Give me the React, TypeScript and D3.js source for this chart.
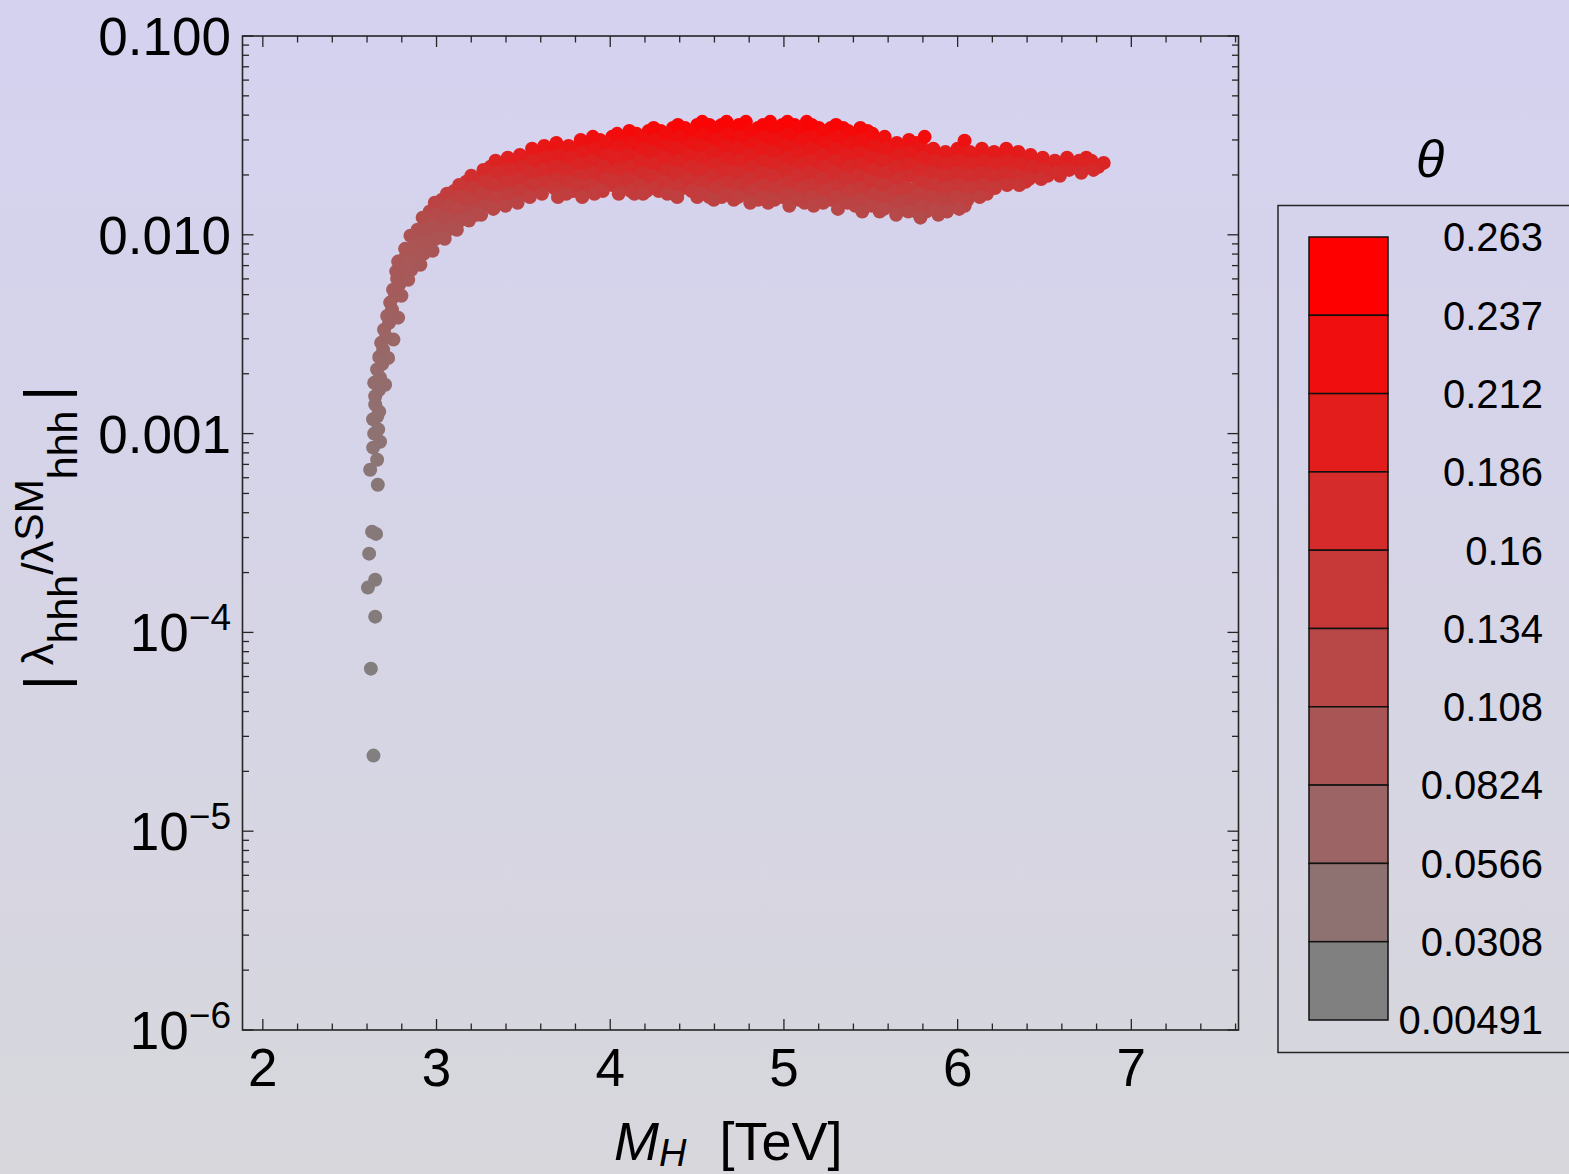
import React from "react";
import * as d3 from "d3";

type P = [number, number, number]; // [M_H (TeV), |lambda_hhh / lambda_hhh^SM|, theta]

const tailPoints: P[] = [
  [2.637, 2.4e-5, 0.006], [2.622, 6.57e-5, 0.009], [2.647, 1.2e-4, 0.013],
  [2.605, 1.68e-4, 0.015], [2.647, 1.84e-4, 0.016], [2.612, 2.49e-4, 0.018],
  [2.629, 3.21e-4, 0.02], [2.652, 3.13e-4, 0.02], [2.662, 5.53e-4, 0.024],
];

const curvePoints: P[] = [
  [2.618, 0.000658, 0.026], [2.658, 0.000739, 0.028], [2.635, 0.00085, 0.03],
  [2.675, 0.00091, 0.031], [2.641, 0.001, 0.033], [2.664, 0.00105, 0.034],
  [2.635, 0.00118, 0.036], [2.658, 0.00122, 0.036], [2.67, 0.00129, 0.037],
  [2.647, 0.0014, 0.039], [2.647, 0.00154, 0.041], [2.67, 0.00166, 0.043],
  [2.641, 0.0018, 0.044], [2.704, 0.00176, 0.044], [2.675, 0.00191, 0.046],
  [2.658, 0.0021, 0.048], [2.687, 0.00224, 0.05], [2.721, 0.0024, 0.051],
  [2.67, 0.00243, 0.052], [2.693, 0.00264, 0.054], [2.681, 0.00286, 0.057],
  [2.752, 0.00297, 0.058], [2.71, 0.00306, 0.059], [2.698, 0.00333, 0.062],
  [2.727, 0.00361, 0.065], [2.779, 0.00383, 0.067], [2.716, 0.00391, 0.068],
  [2.744, 0.0042, 0.07], [2.733, 0.00456, 0.073], [2.762, 0.00493, 0.076],
  [2.798, 0.00494, 0.076], [2.75, 0.00529, 0.078], [2.785, 0.00561, 0.08],
  [2.773, 0.00601, 0.082], [2.808, 0.00629, 0.084], [2.768, 0.00655, 0.085],
  [2.796, 0.00675, 0.086], [2.836, 0.00707, 0.087], [2.779, 0.00733, 0.088],
  [2.819, 0.00767, 0.089], [2.86, 0.00789, 0.09], [2.819, 0.0085, 0.092],
];

const bandPoints: P[] = [
  [2.85, 0.00989, 0.097], [2.862, 0.0086, 0.092], [2.841, 0.00749, 0.088], [2.855, 0.00667, 0.085], [2.837, 0.00594, 0.082],
  [2.92, 0.0122, 0.111], [2.932, 0.0106, 0.101], [2.911, 0.00922, 0.094], [2.925, 0.00803, 0.09], [2.907, 0.00707, 0.087],
  [2.99, 0.0145, 0.127], [3.002, 0.0126, 0.114], [2.981, 0.011, 0.103], [2.995, 0.00955, 0.095], [2.977, 0.00831, 0.091],
  [3.06, 0.0161, 0.14], [3.072, 0.014, 0.123], [3.051, 0.0122, 0.111], [3.065, 0.0106, 0.101], [3.047, 0.00955, 0.095],
  [3.13, 0.0178, 0.154], [3.142, 0.0155, 0.135], [3.121, 0.0135, 0.12], [3.135, 0.0118, 0.108], [3.117, 0.0106, 0.101],
  [3.2, 0.0198, 0.169], [3.212, 0.0172, 0.149], [3.191, 0.015, 0.131], [3.205, 0.0131, 0.117], [3.187, 0.0118, 0.108],
  [3.27, 0.0212, 0.179], [3.282, 0.0185, 0.159], [3.261, 0.0161, 0.14], [3.275, 0.014, 0.123], [3.257, 0.0126, 0.114],
  [3.34, 0.0236, 0.194], [3.352, 0.0205, 0.174], [3.331, 0.0178, 0.154], [3.345, 0.0155, 0.135], [3.327, 0.0135, 0.12],
  [3.41, 0.0244, 0.199], [3.422, 0.0212, 0.179], [3.401, 0.0185, 0.159], [3.415, 0.0161, 0.14], [3.397, 0.014, 0.123],
  [3.48, 0.0252, 0.204], [3.492, 0.022, 0.184], [3.471, 0.0191, 0.164], [3.485, 0.0166, 0.145], [3.467, 0.0145, 0.127],
  [3.55, 0.0271, 0.214], [3.562, 0.0236, 0.194], [3.541, 0.0205, 0.174], [3.555, 0.0178, 0.154], [3.537, 0.0155, 0.135],
  [3.62, 0.028, 0.219], [3.632, 0.0244, 0.199], [3.611, 0.0212, 0.179], [3.625, 0.0185, 0.159], [3.607, 0.0161, 0.14],
  [3.69, 0.029, 0.224], [3.702, 0.0252, 0.204], [3.681, 0.022, 0.184], [3.695, 0.0191, 0.164], [3.677, 0.0172, 0.149], [3.699, 0.0155, 0.135],
  [3.76, 0.028, 0.219], [3.772, 0.0244, 0.199], [3.751, 0.0212, 0.179], [3.765, 0.0185, 0.159], [3.747, 0.0161, 0.14],
  [3.83, 0.03, 0.228], [3.842, 0.0261, 0.209], [3.821, 0.0227, 0.189], [3.835, 0.0198, 0.169], [3.817, 0.0178, 0.154], [3.839, 0.0155, 0.135],
  [3.9, 0.0311, 0.233], [3.912, 0.0271, 0.214], [3.891, 0.0236, 0.194], [3.905, 0.0205, 0.174], [3.887, 0.0178, 0.154], [3.909, 0.0161, 0.14],
  [3.97, 0.029, 0.224], [3.982, 0.0252, 0.204], [3.961, 0.022, 0.184], [3.975, 0.0191, 0.164], [3.957, 0.0166, 0.145],
  [4.04, 0.0322, 0.238], [4.052, 0.028, 0.219], [4.031, 0.0244, 0.199], [4.045, 0.0212, 0.179], [4.027, 0.0185, 0.159], [4.049, 0.0161, 0.14],
  [4.11, 0.0333, 0.243], [4.122, 0.029, 0.224], [4.101, 0.0252, 0.204], [4.115, 0.022, 0.184], [4.097, 0.0191, 0.164], [4.119, 0.0166, 0.145],
  [4.18, 0.0311, 0.233], [4.192, 0.0271, 0.214], [4.171, 0.0236, 0.194], [4.185, 0.0205, 0.174], [4.167, 0.0178, 0.154], [4.189, 0.0161, 0.14],
  [4.25, 0.0345, 0.247], [4.262, 0.03, 0.228], [4.241, 0.0261, 0.209], [4.255, 0.0227, 0.189], [4.237, 0.0198, 0.169], [4.259, 0.0172, 0.149],
  [4.32, 0.0322, 0.238], [4.332, 0.028, 0.219], [4.311, 0.0244, 0.199], [4.325, 0.0212, 0.179], [4.307, 0.0185, 0.159], [4.329, 0.0161, 0.14],
  [4.39, 0.0357, 0.252], [4.402, 0.0311, 0.233], [4.381, 0.0271, 0.214], [4.395, 0.0236, 0.194], [4.377, 0.0205, 0.174], [4.399, 0.0178, 0.154], [4.386, 0.0155, 0.135],
  [4.46, 0.0333, 0.243], [4.472, 0.029, 0.224], [4.451, 0.0252, 0.204], [4.465, 0.022, 0.184], [4.447, 0.0191, 0.164], [4.469, 0.0166, 0.145],
  [4.53, 0.037, 0.255], [4.542, 0.0322, 0.238], [4.521, 0.028, 0.219], [4.535, 0.0244, 0.199], [4.517, 0.0212, 0.179], [4.539, 0.0185, 0.159], [4.526, 0.0161, 0.14],
  [4.6, 0.0345, 0.247], [4.612, 0.03, 0.228], [4.591, 0.0261, 0.209], [4.605, 0.0227, 0.189], [4.587, 0.0198, 0.169], [4.609, 0.0172, 0.149], [4.596, 0.015, 0.131],
  [4.67, 0.037, 0.255], [4.682, 0.0322, 0.238], [4.661, 0.028, 0.219], [4.675, 0.0244, 0.199], [4.657, 0.0212, 0.179], [4.679, 0.0185, 0.159], [4.666, 0.0161, 0.14],
  [4.74, 0.0357, 0.252], [4.752, 0.0311, 0.233], [4.731, 0.0271, 0.214], [4.745, 0.0236, 0.194], [4.727, 0.0205, 0.174], [4.749, 0.0178, 0.154], [4.736, 0.0155, 0.135],
  [4.81, 0.0333, 0.243], [4.822, 0.029, 0.224], [4.801, 0.0252, 0.204], [4.815, 0.022, 0.184], [4.797, 0.0191, 0.164], [4.819, 0.0166, 0.145], [4.806, 0.0145, 0.127],
  [4.88, 0.0357, 0.252], [4.892, 0.0311, 0.233], [4.871, 0.0271, 0.214], [4.885, 0.0236, 0.194], [4.867, 0.0205, 0.174], [4.889, 0.0178, 0.154], [4.876, 0.0155, 0.135],
  [4.95, 0.0345, 0.247], [4.962, 0.03, 0.228], [4.941, 0.0261, 0.209], [4.955, 0.0227, 0.189], [4.937, 0.0198, 0.169], [4.959, 0.0172, 0.149], [4.946, 0.015, 0.131],
  [5.02, 0.037, 0.255], [5.032, 0.0322, 0.238], [5.011, 0.028, 0.219], [5.025, 0.0244, 0.199], [5.007, 0.0212, 0.179], [5.029, 0.0185, 0.159], [5.016, 0.0161, 0.14], [5.031, 0.014, 0.123],
  [5.09, 0.0345, 0.247], [5.102, 0.03, 0.228], [5.081, 0.0261, 0.209], [5.095, 0.0227, 0.189], [5.077, 0.0198, 0.169], [5.099, 0.0172, 0.149], [5.086, 0.015, 0.131],
  [5.16, 0.0357, 0.252], [5.172, 0.0311, 0.233], [5.151, 0.0271, 0.214], [5.165, 0.0236, 0.194], [5.147, 0.0205, 0.174], [5.169, 0.0178, 0.154], [5.156, 0.0155, 0.135], [5.171, 0.014, 0.123],
  [5.23, 0.0333, 0.243], [5.242, 0.029, 0.224], [5.221, 0.0252, 0.204], [5.235, 0.022, 0.184], [5.217, 0.0191, 0.164], [5.239, 0.0166, 0.145], [5.226, 0.0145, 0.127],
  [5.3, 0.0357, 0.252], [5.312, 0.0311, 0.233], [5.291, 0.0271, 0.214], [5.305, 0.0236, 0.194], [5.287, 0.0205, 0.174], [5.309, 0.0178, 0.154], [5.296, 0.0155, 0.135], [5.311, 0.0135, 0.12],
  [5.37, 0.0333, 0.243], [5.382, 0.029, 0.224], [5.361, 0.0252, 0.204], [5.375, 0.022, 0.184], [5.357, 0.0191, 0.164], [5.379, 0.0166, 0.145], [5.366, 0.0145, 0.127],
  [5.44, 0.0345, 0.247], [5.452, 0.03, 0.228], [5.431, 0.0261, 0.209], [5.445, 0.0227, 0.189], [5.427, 0.0198, 0.169], [5.449, 0.0172, 0.149], [5.436, 0.015, 0.131], [5.451, 0.0131, 0.117],
  [5.51, 0.0322, 0.238], [5.522, 0.028, 0.219], [5.501, 0.0244, 0.199], [5.515, 0.0212, 0.179], [5.497, 0.0185, 0.159], [5.519, 0.0161, 0.14], [5.506, 0.014, 0.123],
  [5.58, 0.0311, 0.233], [5.592, 0.0271, 0.214], [5.571, 0.0236, 0.194], [5.585, 0.0205, 0.174], [5.567, 0.0178, 0.154], [5.589, 0.0155, 0.135], [5.576, 0.0135, 0.12],
  [5.65, 0.029, 0.224], [5.662, 0.0252, 0.204], [5.641, 0.022, 0.184], [5.655, 0.0191, 0.164], [5.637, 0.0166, 0.145], [5.659, 0.0145, 0.127], [5.646, 0.0126, 0.114],
  [5.72, 0.03, 0.228], [5.732, 0.0261, 0.209], [5.711, 0.0227, 0.189], [5.725, 0.0198, 0.169], [5.707, 0.0172, 0.149], [5.729, 0.015, 0.131], [5.716, 0.0131, 0.117],
  [5.79, 0.028, 0.219], [5.802, 0.0244, 0.199], [5.781, 0.0212, 0.179], [5.795, 0.0185, 0.159], [5.777, 0.0161, 0.14], [5.799, 0.014, 0.123], [5.786, 0.0122, 0.111],
  [5.81, 0.0311, 0.24],
  [5.86, 0.0271, 0.214], [5.872, 0.0236, 0.194], [5.851, 0.0205, 0.174], [5.865, 0.0178, 0.154], [5.847, 0.0155, 0.135], [5.869, 0.0135, 0.12],
  [5.93, 0.0261, 0.209], [5.942, 0.0227, 0.189], [5.921, 0.0198, 0.169], [5.935, 0.0172, 0.149], [5.917, 0.015, 0.131], [5.939, 0.0131, 0.117],
  [6.0, 0.0271, 0.214], [6.012, 0.0236, 0.194], [5.991, 0.0205, 0.174], [6.005, 0.0178, 0.154], [5.987, 0.0155, 0.135], [6.009, 0.0135, 0.12],
  [6.04, 0.0297, 0.228],
  [6.07, 0.0261, 0.209], [6.082, 0.0227, 0.189], [6.061, 0.0198, 0.169], [6.075, 0.0172, 0.149], [6.057, 0.015, 0.131],
  [6.14, 0.0271, 0.214], [6.152, 0.0236, 0.194], [6.131, 0.0205, 0.174], [6.145, 0.0178, 0.154], [6.127, 0.0155, 0.135],
  [6.21, 0.0261, 0.209], [6.222, 0.0227, 0.189], [6.201, 0.0198, 0.169], [6.215, 0.0172, 0.149],
  [6.28, 0.0271, 0.214], [6.292, 0.0236, 0.194], [6.271, 0.0205, 0.174], [6.285, 0.0178, 0.154],
  [6.35, 0.0261, 0.209], [6.362, 0.0227, 0.189], [6.341, 0.0198, 0.169], [6.355, 0.0178, 0.154],
  [6.42, 0.0252, 0.204], [6.432, 0.022, 0.184], [6.411, 0.0191, 0.164],
  [6.49, 0.0244, 0.199], [6.502, 0.0212, 0.179], [6.481, 0.0191, 0.164],
  [6.56, 0.0236, 0.194], [6.572, 0.0205, 0.174],
  [6.63, 0.0244, 0.199], [6.642, 0.0212, 0.179],
  [6.7, 0.0236, 0.194], [6.712, 0.0205, 0.174],
  [6.77, 0.0236, 0.194], [6.782, 0.0212, 0.179],
  [6.841, 0.023, 0.19],
];

const bandInnerPoints: P[] = [
  [2.891, 0.0106, 0.101], [2.879, 0.00922, 0.094], [2.891, 0.00803, 0.09], [2.879, 0.00707, 0.087],
  [2.961, 0.0131, 0.117], [2.949, 0.0114, 0.105], [2.961, 0.00989, 0.097], [2.949, 0.0086, 0.092],
  [3.031, 0.015, 0.131], [3.019, 0.0131, 0.117], [3.031, 0.0114, 0.105], [3.019, 0.00989, 0.097],
  [3.101, 0.0166, 0.145], [3.089, 0.0145, 0.127], [3.101, 0.0126, 0.114], [3.089, 0.011, 0.103],
  [3.171, 0.0185, 0.159], [3.159, 0.0161, 0.14], [3.171, 0.014, 0.123], [3.159, 0.0122, 0.111],
  [3.241, 0.0191, 0.164], [3.229, 0.0166, 0.145], [3.241, 0.0145, 0.127], [3.229, 0.0126, 0.114],
  [3.311, 0.022, 0.184], [3.299, 0.0191, 0.164], [3.311, 0.0166, 0.145], [3.299, 0.0145, 0.127],
  [3.381, 0.0227, 0.189], [3.369, 0.0198, 0.169], [3.381, 0.0172, 0.149], [3.369, 0.015, 0.131],
  [3.451, 0.0236, 0.194], [3.439, 0.0205, 0.174], [3.451, 0.0178, 0.154], [3.439, 0.0155, 0.135],
  [3.521, 0.0244, 0.199], [3.509, 0.0212, 0.179], [3.521, 0.0185, 0.159], [3.509, 0.0161, 0.14],
  [3.591, 0.0261, 0.209], [3.579, 0.0227, 0.189], [3.591, 0.0198, 0.169], [3.579, 0.0172, 0.149],
  [3.661, 0.0271, 0.214], [3.649, 0.0236, 0.194], [3.661, 0.0205, 0.174], [3.649, 0.0178, 0.154],
  [3.731, 0.0261, 0.209], [3.719, 0.0227, 0.189], [3.731, 0.0198, 0.169], [3.719, 0.0172, 0.149],
  [3.801, 0.0271, 0.214], [3.789, 0.0236, 0.194], [3.801, 0.0205, 0.174], [3.789, 0.0166, 0.145],
  [3.871, 0.029, 0.224], [3.859, 0.0252, 0.204], [3.871, 0.022, 0.184], [3.859, 0.0191, 0.164], [3.871, 0.0166, 0.145],
  [3.941, 0.03, 0.228], [3.929, 0.0261, 0.209], [3.941, 0.0227, 0.189], [3.929, 0.0198, 0.169], [3.941, 0.0172, 0.149],
  [4.011, 0.0311, 0.233], [3.999, 0.0271, 0.214], [4.011, 0.0236, 0.194], [3.999, 0.0205, 0.174], [4.011, 0.0178, 0.154],
  [4.081, 0.03, 0.228], [4.069, 0.0261, 0.209], [4.081, 0.0227, 0.189], [4.069, 0.0198, 0.169], [4.081, 0.0172, 0.149],
  [4.151, 0.0322, 0.238], [4.139, 0.028, 0.219], [4.151, 0.0244, 0.199], [4.139, 0.0212, 0.179], [4.151, 0.0185, 0.159], [4.139, 0.0161, 0.14],
  [4.221, 0.0333, 0.243], [4.209, 0.029, 0.224], [4.221, 0.0252, 0.204], [4.209, 0.022, 0.184], [4.221, 0.0191, 0.164], [4.209, 0.0166, 0.145],
  [4.291, 0.0333, 0.243], [4.279, 0.029, 0.224], [4.291, 0.0252, 0.204], [4.279, 0.022, 0.184], [4.291, 0.0191, 0.164], [4.279, 0.0166, 0.145],
  [4.361, 0.0345, 0.247], [4.349, 0.03, 0.228], [4.361, 0.0261, 0.209], [4.349, 0.0227, 0.189], [4.361, 0.0198, 0.169], [4.349, 0.0172, 0.149],
  [4.431, 0.0345, 0.247], [4.419, 0.03, 0.228], [4.431, 0.0261, 0.209], [4.419, 0.0227, 0.189], [4.431, 0.0198, 0.169], [4.419, 0.0172, 0.149],
  [4.501, 0.0357, 0.252], [4.489, 0.0311, 0.233], [4.501, 0.0271, 0.214], [4.489, 0.0236, 0.194], [4.501, 0.0205, 0.174], [4.489, 0.0178, 0.154], [4.501, 0.0155, 0.135],
  [4.571, 0.0357, 0.252], [4.559, 0.0311, 0.233], [4.571, 0.0271, 0.214], [4.559, 0.0236, 0.194], [4.571, 0.0205, 0.174], [4.559, 0.0178, 0.154], [4.571, 0.0155, 0.135],
  [4.641, 0.0357, 0.252], [4.629, 0.0311, 0.233], [4.641, 0.0271, 0.214], [4.629, 0.0236, 0.194], [4.641, 0.0205, 0.174], [4.629, 0.0178, 0.154], [4.641, 0.0155, 0.135],
  [4.711, 0.0345, 0.247], [4.699, 0.03, 0.228], [4.711, 0.0261, 0.209], [4.699, 0.0227, 0.189], [4.711, 0.0198, 0.169], [4.699, 0.0172, 0.149], [4.711, 0.015, 0.131],
  [4.781, 0.037, 0.255], [4.769, 0.0322, 0.238], [4.781, 0.028, 0.219], [4.769, 0.0244, 0.199], [4.781, 0.0212, 0.179], [4.769, 0.0185, 0.159], [4.781, 0.0161, 0.14],
  [4.851, 0.0345, 0.247], [4.839, 0.03, 0.228], [4.851, 0.0261, 0.209], [4.839, 0.0227, 0.189], [4.851, 0.0198, 0.169], [4.839, 0.0172, 0.149], [4.851, 0.015, 0.131],
  [4.921, 0.037, 0.255], [4.909, 0.0322, 0.238], [4.921, 0.028, 0.219], [4.909, 0.0244, 0.199], [4.921, 0.0212, 0.179], [4.909, 0.0185, 0.159], [4.921, 0.0161, 0.14], [4.909, 0.0145, 0.127],
  [4.991, 0.0357, 0.252], [4.979, 0.0311, 0.233], [4.991, 0.0271, 0.214], [4.979, 0.0236, 0.194], [4.991, 0.0205, 0.174], [4.979, 0.0178, 0.154], [4.991, 0.0155, 0.135],
  [5.061, 0.0357, 0.252], [5.049, 0.0311, 0.233], [5.061, 0.0271, 0.214], [5.049, 0.0236, 0.194], [5.061, 0.0205, 0.174], [5.049, 0.0178, 0.154], [5.061, 0.0155, 0.135],
  [5.131, 0.037, 0.255], [5.119, 0.0322, 0.238], [5.131, 0.028, 0.219], [5.119, 0.0244, 0.199], [5.131, 0.0212, 0.179], [5.119, 0.0185, 0.159], [5.131, 0.0161, 0.14], [5.119, 0.0145, 0.127],
  [5.201, 0.0345, 0.247], [5.189, 0.03, 0.228], [5.201, 0.0261, 0.209], [5.189, 0.0227, 0.189], [5.201, 0.0198, 0.169], [5.189, 0.0172, 0.149], [5.201, 0.015, 0.131],
  [5.271, 0.0345, 0.247], [5.259, 0.03, 0.228], [5.271, 0.0261, 0.209], [5.259, 0.0227, 0.189], [5.271, 0.0198, 0.169], [5.259, 0.0172, 0.149], [5.271, 0.015, 0.131],
  [5.341, 0.0345, 0.247], [5.329, 0.03, 0.228], [5.341, 0.0261, 0.209], [5.329, 0.0227, 0.189], [5.341, 0.0198, 0.169], [5.329, 0.0172, 0.149], [5.341, 0.015, 0.131],
  [5.411, 0.0322, 0.238], [5.399, 0.028, 0.219], [5.411, 0.0244, 0.199], [5.399, 0.0212, 0.179], [5.411, 0.0185, 0.159], [5.399, 0.0161, 0.14], [5.411, 0.014, 0.123],
  [5.481, 0.0333, 0.243], [5.469, 0.029, 0.224], [5.481, 0.0252, 0.204], [5.469, 0.022, 0.184], [5.481, 0.0191, 0.164], [5.469, 0.0166, 0.145], [5.481, 0.0145, 0.127],
  [5.551, 0.03, 0.228], [5.539, 0.0261, 0.209], [5.551, 0.0227, 0.189], [5.539, 0.0198, 0.169], [5.551, 0.0172, 0.149], [5.539, 0.015, 0.131], [5.551, 0.0131, 0.117],
  [5.621, 0.028, 0.219], [5.609, 0.0244, 0.199], [5.621, 0.0212, 0.179], [5.609, 0.0185, 0.159], [5.621, 0.0161, 0.14], [5.609, 0.014, 0.123],
  [5.691, 0.0271, 0.214], [5.679, 0.0236, 0.194], [5.691, 0.0205, 0.174], [5.679, 0.0178, 0.154], [5.691, 0.0155, 0.135], [5.679, 0.0135, 0.12],
  [5.761, 0.029, 0.224], [5.749, 0.0261, 0.209], [5.761, 0.0227, 0.189], [5.749, 0.0198, 0.169], [5.761, 0.0172, 0.149], [5.749, 0.015, 0.131], [5.761, 0.0131, 0.117],
  [5.831, 0.0261, 0.209], [5.819, 0.0227, 0.189], [5.831, 0.0198, 0.169], [5.819, 0.0172, 0.149], [5.831, 0.015, 0.131], [5.819, 0.0131, 0.117],
  [5.901, 0.0252, 0.204], [5.889, 0.022, 0.184], [5.901, 0.0191, 0.164], [5.889, 0.0166, 0.145], [5.901, 0.0145, 0.127], [5.889, 0.0126, 0.114],
  [5.971, 0.0252, 0.204], [5.959, 0.022, 0.184], [5.971, 0.0191, 0.164], [5.959, 0.0166, 0.145], [5.971, 0.0145, 0.127],
  [6.041, 0.0244, 0.199], [6.029, 0.0212, 0.179], [6.041, 0.0185, 0.159], [6.029, 0.0161, 0.14], [6.041, 0.014, 0.123],
  [6.111, 0.0252, 0.204], [6.099, 0.022, 0.184], [6.111, 0.0191, 0.164], [6.099, 0.0166, 0.145],
  [6.181, 0.0244, 0.199], [6.169, 0.0212, 0.179], [6.181, 0.0185, 0.159], [6.169, 0.0161, 0.14],
  [6.251, 0.0252, 0.204], [6.239, 0.022, 0.184], [6.251, 0.0191, 0.164],
  [6.321, 0.0244, 0.199], [6.309, 0.0212, 0.179], [6.321, 0.0185, 0.159],
  [6.391, 0.0236, 0.194], [6.379, 0.0205, 0.174], [6.391, 0.0185, 0.159],
  [6.461, 0.0236, 0.194], [6.449, 0.0205, 0.174],
  [6.531, 0.0227, 0.189], [6.519, 0.0198, 0.169],
  [6.601, 0.0227, 0.189], [6.589, 0.0198, 0.169],
  [6.671, 0.0227, 0.189],
  [6.741, 0.0244, 0.199], [6.729, 0.022, 0.184],
  [6.811, 0.022, 0.184],
];

const xMajorTicks = [2, 3, 4, 5, 6, 7];
const yDecades = [1e-6, 1e-5, 1e-4, 1e-3, 1e-2, 1e-1];
const yDecimalLabels: Record<string, string> = { "-1": "0.100", "-2": "0.010", "-3": "0.001" };
const legendLabels = ["0.263", "0.237", "0.212", "0.186", "0.16", "0.134", "0.108", "0.0824", "0.0566", "0.0308", "0.00491"];
const thetaMin = 0.00491;
const thetaMax = 0.263;

const FONT = "'Liberation Sans', Arial, Helvetica, sans-serif";
const INK = "#262626";

export default function App() {
  const W = 1569, H = 1174;
  const left = 242.5, right = 1238.5, top = 36, bottom = 1030;
  const x = d3.scaleLinear().domain([1.883, 7.617]).range([left, right]);
  const y = d3.scaleLog().domain([1e-6, 0.1]).range([bottom, top]);
  const interp = d3.interpolateRgb("#808080", "#ff0000");
  const tScale = d3.scaleLinear().domain([thetaMin, thetaMax]).range([0, 1]).clamp(true);
  const color = (th: number) => interp(tScale(th));

  const allPoints = [...tailPoints, ...curvePoints, ...bandInnerPoints, ...bandPoints];

  const xTicks = d3.range(10, 39).map((i) => ({ v: i / 5, major: i % 5 === 0 })).filter((t) => t.v <= 7.617);
  const yTicks: { v: number; major: boolean }[] = [];
  yDecades.forEach((d, i) => {
    yTicks.push({ v: d, major: true });
    if (i < yDecades.length - 1) for (let m = 2; m <= 9; m++) yTicks.push({ v: m * d, major: false });
  });

  const majLen = 11, minLen = 6.5;

  const legX = 1309, legW = 79, legTop = 237, legBottom = 1020;
  const nBands = legendLabels.length - 1;
  const bandH = (legBottom - legTop) / nBands;

  return (
    <svg width={W} height={H} style={{ position: "absolute", left: 0, top: 0 }} fontFamily={FONT}>
      <defs>
        <linearGradient id="bg" x1="0" y1="0" x2="0" y2="1">
          <stop offset="0" stopColor="#d5d2f0" />
          <stop offset="1" stopColor="#d7d7dc" />
        </linearGradient>
      </defs>
      <rect x={0} y={0} width={W} height={H} fill="url(#bg)" />

      <g>
        {allPoints.map((p, i) => (
          <circle key={i} cx={x(p[0])} cy={y(p[1])} r={7} fill={color(p[2])} />
        ))}
      </g>

      <rect x={left} y={top} width={right - left} height={bottom - top} fill="none" stroke={INK} strokeWidth={1.6} />

      <g stroke={INK} strokeWidth={1.3}>
        {xTicks.map((t, i) => {
          const xx = x(t.v);
          const l = t.major ? majLen : minLen;
          return (
            <g key={i}>
              <line x1={xx} x2={xx} y1={bottom} y2={bottom - l} />
              <line x1={xx} x2={xx} y1={top} y2={top + l} />
            </g>
          );
        })}
        {yTicks.map((t, i) => {
          const yy = y(t.v);
          const l = t.major ? majLen : minLen;
          return (
            <g key={i}>
              <line x1={left} x2={left + l} y1={yy} y2={yy} />
              <line x1={right} x2={right - l} y1={yy} y2={yy} />
            </g>
          );
        })}
      </g>

      <g fontSize={53} fill="#000" textAnchor="middle">
        {xMajorTicks.map((v) => (
          <text key={v} x={x(v)} y={1086}>{v}</text>
        ))}
      </g>

      <g fontSize={53} fill="#000" textAnchor="end">
        {yDecades.map((d) => {
          const e = Math.round(Math.log10(d));
          const yy = y(d) + 19;
          const dec = yDecimalLabels[String(e)];
          if (dec) return <text key={e} x={231} y={yy}>{dec}</text>;
          return (
            <text key={e} x={231} y={yy}>
              10
              <tspan fontSize={37} dy={-21}>{"\u2212" + Math.abs(e)}</tspan>
            </text>
          );
        })}
      </g>

      <text x={614} y={1160} fontSize={54} fill="#000">
        <tspan fontStyle="italic">M</tspan>
        <tspan fontStyle="italic" fontSize={38} dy={6}>H</tspan>
        <tspan dy={-6} dx={33}>[TeV]</tspan>
      </text>

      <text transform="translate(53,538) rotate(-90)" textAnchor="middle" fontSize={44} fill="#000">
        <tspan fontSize={57} dy={12}>|</tspan>
        <tspan dy={-12} dx={10}>λ</tspan>
        <tspan fontSize={41} dy={24}>hhh</tspan>
        <tspan dy={-24}>/λ</tspan>
        <tspan fontSize={41} dy={-10}>SM</tspan>
        <tspan fontSize={41} dy={34}>hhh</tspan>
        <tspan fontSize={57} dy={-12} dx={10}>|</tspan>
      </text>

      <text x={1430} y={177} fontSize={52} fontStyle="italic" textAnchor="middle" fill="#000">θ</text>
      <rect x={1278} y={205.5} width={400} height={847} fill="none" stroke={INK} strokeWidth={1.5} />
      {d3.range(nBands).map((i) => (
        <rect
          key={i}
          x={legX}
          y={legTop + i * bandH}
          width={legW}
          height={bandH}
          fill={interp(1 - i / (nBands - 1))}
          stroke="#111"
          strokeWidth={1.5}
        />
      ))}
      <g fontSize={40} textAnchor="end" fill="#000">
        {legendLabels.map((s, i) => (
          <text key={s} x={1543} y={legTop + i * bandH + 14.3}>{s}</text>
        ))}
      </g>
    </svg>
  );
}
